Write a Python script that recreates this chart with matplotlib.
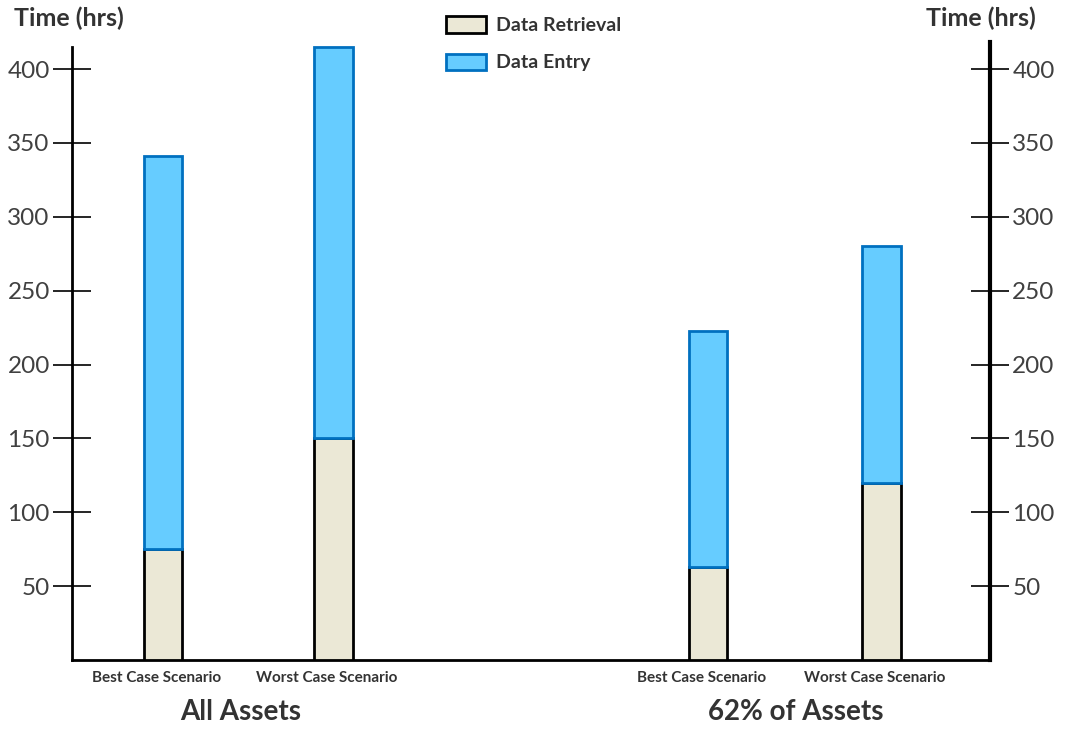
import matplotlib
matplotlib.use("Agg")
import matplotlib.pyplot as plt
from matplotlib.patches import Patch

# values (hours)
groups = ["All Assets", "62% of Assets"]
scenarios = ["Best Case Scenario", "Worst Case Scenario",
             "Best Case Scenario", "Worst Case Scenario"]
retrieval = [75, 150, 63, 120]
entry = [266, 265, 160, 160]
yticks = [50, 100, 150, 200, 250, 300, 350, 400]

# layout: bar centres in axis units
xpos = [0.53, 1.52, 3.70, 4.71]
group_x = [0.98, 4.21]

plt.rcParams['font.family'] = ['Lato', 'DejaVu Sans']
txt = '#333333'

fig = plt.figure(figsize=(10.66, 7.30), dpi=100)
ax = fig.add_axes([72/1066, 1-660/730, 918/1066, (660-38)/730])

ax.bar(xpos, retrieval, width=0.225, color='#ebe8d6', edgecolor='black',
       linewidth=2, label='Data Retrieval', zorder=3)
ax.bar(xpos, entry, width=0.225, bottom=retrieval, color='#66ccff',
       edgecolor='#0070c0', linewidth=2, label='Data Entry', zorder=3)

ax.set_xlim(0, 5.34)
ax.set_ylim(0, 421)
ax.set_yticks(yticks)
ax.tick_params(axis='y', direction='inout', length=28, width=1.2,
               labelsize=17.5, labelcolor='#404040', left=True, right=True,
               labelleft=True, labelright=True, pad=2)
ax.set_xticks([])
ax.spines['top'].set_visible(False)
ax.spines['left'].set_linewidth(2)
ax.spines['left'].set_bounds(0, 415)
ax.spines['right'].set_linewidth(3)
ax.spines['right'].set_bounds(0, 418)
ax.spines['bottom'].set_linewidth(2)

# scenario labels sit slightly left of the bar centres
for x, s in zip(xpos, scenarios):
    ax.text(x - 0.04, -12, s, ha='center', va='center', fontsize=11,
            fontweight='bold', color=txt)
for x, g in zip(group_x, groups):
    ax.text(x, -35, g, ha='center', va='center', fontsize=20,
            fontweight='bold', color=txt)

fig.text(14/1066, 1-18/730, 'Time (hrs)', ha='left', va='center',
         fontsize=18, fontweight='bold', color=txt)
fig.text(1036/1066, 1-18/730, 'Time (hrs)', ha='right', va='center',
         fontsize=18, fontweight='bold', color=txt)

handles = [Patch(facecolor='#ebe8d6', edgecolor='black', linewidth=2),
           Patch(facecolor='#66ccff', edgecolor='#0070c0', linewidth=2)]
fig.legend(handles, ['Data Retrieval', 'Data Entry'], loc='upper left',
           bbox_to_anchor=(428/1066, 1 + 1/730), frameon=False,
           prop={'weight': 'bold', 'size': 14}, labelcolor=txt,
           handlelength=2.1, handleheight=0.9, labelspacing=1.0,
           handletextpad=0.5)

fig.savefig('out.png', dpi=100)
